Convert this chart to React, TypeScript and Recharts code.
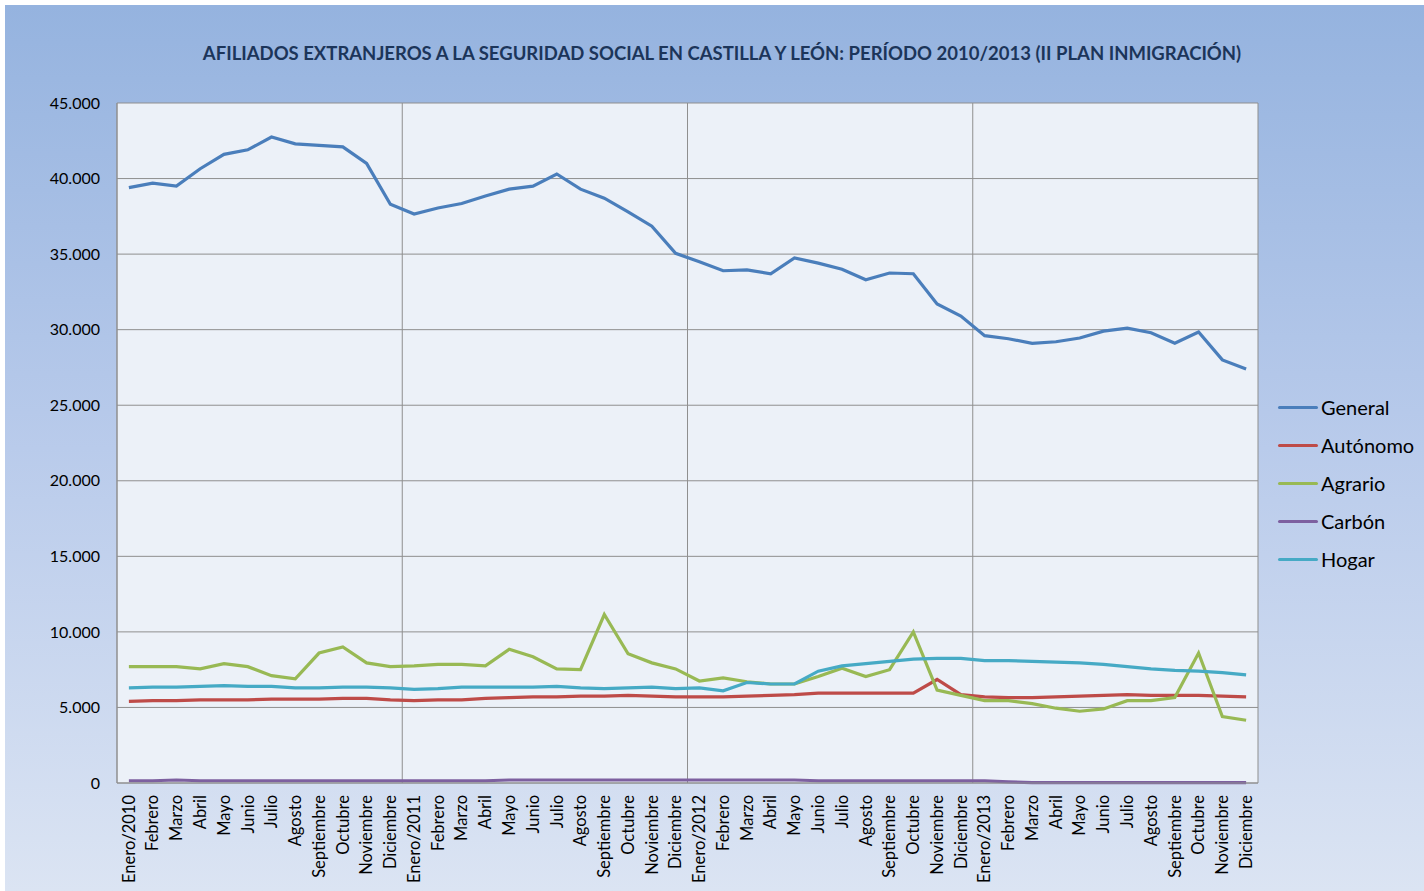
import React from 'react';
import { LineChart, Line, XAxis, YAxis, CartesianGrid, Legend } from 'recharts';

const monthNames = ['Enero', 'Febrero', 'Marzo', 'Abril', 'Mayo', 'Junio', 'Julio', 'Agosto', 'Septiembre', 'Octubre', 'Noviembre', 'Diciembre'];
const years = [2010, 2011, 2012, 2013];

const general = [
  39400, 39700, 39500, 40650, 41600, 41900, 42750, 42300, 42200, 42100, 41000, 38300,
  37650, 38050, 38350, 38850, 39300, 39500, 40300, 39300, 38700, 37800, 36850, 35050,
  34500, 33900, 33950, 33700, 34750, 34400, 34000, 33300, 33750, 33700, 31700, 30900,
  29600, 29400, 29100, 29200, 29450, 29900, 30100, 29800, 29100, 29850, 28000, 27400,
];

const autonomo = [
  5400, 5450, 5450, 5500, 5500, 5500, 5550, 5550, 5550, 5600, 5600, 5500,
  5450, 5500, 5500, 5600, 5650, 5700, 5700, 5750, 5750, 5800, 5750, 5700,
  5700, 5700, 5750, 5800, 5850, 5950, 5950, 5950, 5950, 5950, 6850, 5850,
  5700, 5650, 5650, 5700, 5750, 5800, 5850, 5800, 5800, 5800, 5750, 5700,
];

const agrario = [
  7700, 7700, 7700, 7550, 7900, 7700, 7100, 6900, 8600, 9000, 7950, 7700,
  7750, 7850, 7850, 7750, 8850, 8350, 7550, 7500, 11150, 8550, 7950, 7550,
  6750, 6950, 6700, 6550, 6550, 7050, 7600, 7050, 7500, 10000, 6150, 5800,
  5450, 5450, 5250, 4950, 4750, 4900, 5450, 5450, 5650, 8600, 4400, 4150,
];

const carbon = [
  150, 150, 200, 150, 150, 150, 150, 150, 150, 150, 150, 150,
  150, 150, 150, 150, 200, 200, 200, 200, 200, 200, 200, 200,
  200, 200, 200, 200, 200, 150, 150, 150, 150, 150, 150, 150,
  150, 80, 30, 30, 30, 30, 30, 30, 30, 30, 30, 30,
];

const hogar = [
  6300, 6350, 6350, 6400, 6450, 6400, 6400, 6300, 6300, 6350, 6350, 6300,
  6200, 6250, 6350, 6350, 6350, 6350, 6400, 6300, 6250, 6300, 6350, 6250,
  6300, 6100, 6650, 6550, 6550, 7400, 7750, 7900, 8050, 8200, 8250, 8250,
  8100, 8100, 8050, 8000, 7950, 7850, 7700, 7550, 7450, 7400, 7300, 7150,
];

const yTicks = [0, 5000, 10000, 15000, 20000, 25000, 30000, 35000, 40000, 45000];

const labels = years.flatMap(y => monthNames.map((m, i) => (i === 0 ? `${m}/${y}` : m)));

const data = labels.map((label, i) => ({
  label,
  general: general[i],
  autonomo: autonomo[i],
  agrario: agrario[i],
  carbon: carbon[i],
  hogar: hogar[i],
}));

const SERIES = [
  { key: 'general', name: 'General', color: '#4a7ebb' },
  { key: 'autonomo', name: 'Autónomo', color: '#be4b48' },
  { key: 'agrario', name: 'Agrario', color: '#98b954' },
  { key: 'carbon', name: 'Carbón', color: '#7d60a0' },
  { key: 'hogar', name: 'Hogar', color: '#46aac5' },
];

const FONT = 'Lato, "Open Sans", sans-serif';
const GRID = '#8f8f8f';

const W = 1419;
const H = 886;
const MARGIN = { top: 98, right: 166, bottom: 0, left: 0 };
const Y_WIDTH = 112;
// half a category band on each side, so points sit in the middle of each month
const HALF_BAND = (W - MARGIN.right - Y_WIDTH) / labels.length / 2;

const fmt = (v: number) => (v === 0 ? '0' : v.toLocaleString('de-DE'));

const MonthTick = ({ x, y, payload }: any) => (
  <text
    x={x}
    y={y + 4}
    transform={`rotate(-90, ${x}, ${y + 4})`}
    textAnchor="end"
    dy="0.35em"
    fontSize={16.5}
    fontFamily={FONT}
    fill="#000"
  >
    {payload.value}
  </text>
);

const LegendBox = () => (
  <div style={{ fontFamily: FONT, fontSize: 20, color: '#000' }}>
    {SERIES.map(s => (
      <div key={s.key} style={{ display: 'flex', alignItems: 'center', height: 38 }}>
        <div style={{ width: 40, height: 3, background: s.color, marginRight: 3, borderRadius: 2 }} />
        <span>{s.name}</span>
      </div>
    ))}
  </div>
);

export default function App() {
  return (
    <div
      style={{
        position: 'absolute',
        left: 5,
        top: 5,
        width: W,
        height: H,
        background: 'linear-gradient(180deg, #95b3df 0%, #b9cbeb 50%, #dbe4f3 100%)',
      }}
    >
      <div
        style={{
          position: 'absolute',
          left: 0,
          width: 1434,
          top: 37,
          textAlign: 'center',
          fontFamily: FONT,
          fontWeight: 700,
          fontSize: 18.5,
          color: '#1c355a',
          whiteSpace: 'nowrap',
        }}
      >
        AFILIADOS EXTRANJEROS A LA SEGURIDAD SOCIAL EN CASTILLA Y LEÓN: PERÍODO 2010/2013 (II PLAN INMIGRACIÓN)
      </div>
      <LineChart width={W} height={H} data={data} margin={MARGIN}>
        <CartesianGrid
          fill="#ecf1f8"
          stroke={GRID}
          strokeWidth={1}
          verticalCoordinatesGenerator={({ offset }: any) =>
            [0, 1, 2, 3, 4].map(i => offset.left + (offset.width * i) / 4)
          }
        />
        <XAxis
          dataKey="label"
          interval={0}
          height={108}
          padding={{ left: HALF_BAND, right: HALF_BAND }}
          tick={<MonthTick />}
          tickLine={false}
          axisLine={{ stroke: GRID }}
        />
        <YAxis
          width={Y_WIDTH}
          domain={[0, 45000]}
          ticks={yTicks}
          tickFormatter={fmt}
          tickLine={false}
          tickSize={8}
          tickMargin={9}
          axisLine={{ stroke: GRID }}
          tick={{ fontSize: 16, fontFamily: FONT, fill: '#000' }}
        />
        <Legend
          layout="vertical"
          verticalAlign="middle"
          align="center"
          content={<LegendBox />}
          wrapperStyle={{ left: 1273, top: 383, width: 150 }}
        />
        {SERIES.map(s => (
          <Line
            key={s.key}
            type="linear"
            dataKey={s.key}
            name={s.name}
            stroke={s.color}
            strokeWidth={3.2}
            dot={false}
            isAnimationActive={false}
          />
        ))}
      </LineChart>
    </div>
  );
}
